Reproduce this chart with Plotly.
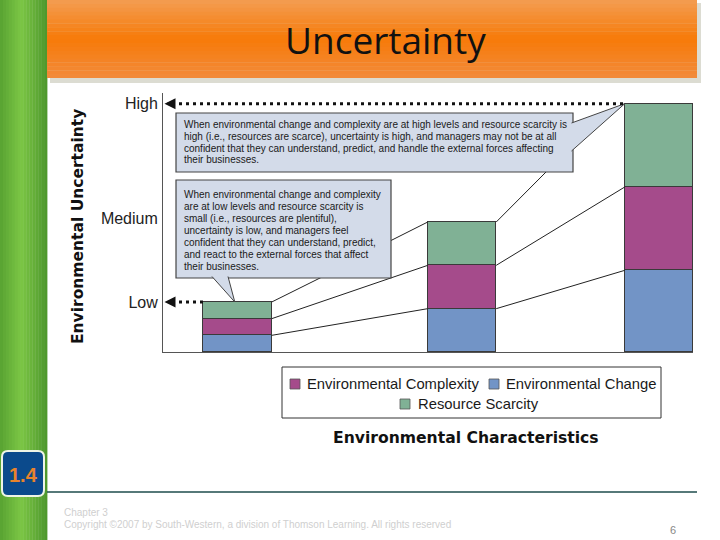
import plotly.graph_objects as go

# ---------------- data ----------------
categories = ["Low uncertainty", "Medium uncertainty", "High uncertainty"]
env_change = [1.0, 2.6, 4.9]          # Environmental Change (bottom, blue)
env_complexity = [1.0, 2.6, 5.0]      # Environmental Complexity (middle, purple)
resource_scarcity = [1.0, 2.6, 5.0]   # Resource Scarcity (top, green)
tick_vals = [3.0, 8.0, 14.9]
tick_text = ["Low", "Medium", "High"]

# ---------------- layout constants ----------------
W, H = 720, 540
L, R, T, B = 163, 27, 93, 188
PW, PH = W - L - R, H - T - B
YMAX = 15.54
bar_pos = [0.0, 1.0, 1.8775]
bar_w = 0.305
XMIN, XMAX = -0.3318, 2.029

C_BLUE = "#7294c6"
C_PURPLE = "#a54b8b"
C_GREEN = "#80b195"
C_BOX = "#d3dbe9"
C_EDGE = "#3a3a3a"
FONT = "Liberation Sans, Arial, sans-serif"
BOLDFONT = "DejaVu Sans, Liberation Sans, sans-serif"


def PX(px):
    return (px - L) / PW


def PY(py):
    return (H - B - py) / PH


def dx(px):
    return XMIN + (px - L) / PW * (XMAX - XMIN)


def dy(py):
    return (H - B - py) / PH * YMAX


def hexmix(c1, c2, t):
    a = [int(c1[i:i + 2], 16) for i in (1, 3, 5)]
    b = [int(c2[i:i + 2], 16) for i in (1, 3, 5)]
    return "#" + "".join(f"{round(a[k] + (b[k] - a[k]) * t):02x}" for k in range(3))


cum1 = [a for a in env_change]
cum2 = [a + b for a, b in zip(env_change, env_complexity)]
total = [a + b + c for a, b, c in zip(env_change, env_complexity, resource_scarcity)]

fig = go.Figure()
for name, vals, col in [("Environmental Change", env_change, C_BLUE),
                        ("Environmental Complexity", env_complexity, C_PURPLE),
                        ("Resource Scarcity", resource_scarcity, C_GREEN)]:
    fig.add_trace(go.Bar(x=bar_pos, y=vals, width=bar_w, name=name,
                         marker=dict(color=col, line=dict(color=C_EDGE, width=1)),
                         customdata=categories, showlegend=False,
                         hovertemplate="%{customdata}<br>" + name + ": %{y}<extra></extra>"))

# connector lines between segment tops
for i in range(2):
    for cum in (cum1, cum2):
        fig.add_trace(go.Scatter(x=[bar_pos[i] + bar_w / 2, bar_pos[i + 1] - bar_w / 2],
                                 y=[cum[i], cum[i + 1]], mode="lines",
                                 line=dict(color="#222", width=1), showlegend=False,
                                 hoverinfo="skip"))

# callout pointer lines
pointers = [((322, 277), (bar_pos[0] + bar_w / 2, total[0])),
            ((390, 241), (bar_pos[1] - bar_w / 2, total[1])),
            ((547, 171), (bar_pos[1] + bar_w / 2, total[1]))]
for (bx, by), (tx, ty) in pointers:
    fig.add_trace(go.Scatter(x=[dx(bx), tx], y=[dy(by), ty], mode="lines",
                             line=dict(color="#222", width=1), showlegend=False,
                             hoverinfo="skip"))

shapes = []
# left green band
n = 16
for k in range(n):
    x0 = 47 * k / n
    x1 = 47 * (k + 1) / n + 0.4
    t = (k + 0.5) / n
    if t < 0.45:
        col = hexmix("#58a332", "#7cc645", t / 0.45)
    else:
        col = hexmix("#7cc645", "#4c962c", (t - 0.45) / 0.55)
    shapes.append(dict(type="rect", xref="paper", yref="paper", x0=PX(x0), x1=PX(x1),
                       y0=PY(540), y1=PY(0), fillcolor=col, line=dict(width=0), layer="below"))
# banner shadow
shapes.append(dict(type="rect", xref="paper", yref="paper", x0=PX(50), x1=PX(701),
                   y0=PY(83), y1=PY(3), fillcolor="#dcdcd2", line=dict(width=0), layer="below"))
# banner gradient
m = 20
for k in range(m):
    y0 = 78 * k / m
    y1 = 78 * (k + 1) / m + 0.4
    t = (k + 0.5) / m
    if t < 0.5:
        col = hexmix("#f39d52", "#f77a08", t / 0.5)
    else:
        col = hexmix("#f77a08", "#f28b3c", (t - 0.5) / 0.5)
    shapes.append(dict(type="rect", xref="paper", yref="paper", x0=PX(47), x1=PX(697),
                       y0=PY(min(y1, 78)), y1=PY(y0), fillcolor=col, line=dict(width=0),
                       layer="below"))
# footer line
shapes.append(dict(type="line", xref="paper", yref="paper", x0=PX(47), x1=PX(697),
                   y0=PY(492), y1=PY(492), line=dict(color="#1e4d4d", width=1.5)))

# badge (rounded rect)
bx0, bx1, by0, by1, r = 2, 44, 451, 496, 6
pts = (f"M {PX(bx0 + r)},{PY(by0)} L {PX(bx1 - r)},{PY(by0)} "
       f"Q {PX(bx1)},{PY(by0)} {PX(bx1)},{PY(by0 + r)} L {PX(bx1)},{PY(by1 - r)} "
       f"Q {PX(bx1)},{PY(by1)} {PX(bx1 - r)},{PY(by1)} L {PX(bx0 + r)},{PY(by1)} "
       f"Q {PX(bx0)},{PY(by1)} {PX(bx0)},{PY(by1 - r)} L {PX(bx0)},{PY(by0 + r)} "
       f"Q {PX(bx0)},{PY(by0)} {PX(bx0 + r)},{PY(by0)} Z")
shapes.append(dict(type="path", xref="paper", yref="paper", path=pts,
                   fillcolor="#0b4a8c", line=dict(color="#eef4e6", width=2)))

# callout boxes
shapes.append(dict(type="rect", xref="paper", yref="paper", x0=PX(176), x1=PX(573),
                   y0=PY(172), y1=PY(113), fillcolor=C_BOX, line=dict(color="#444", width=1.2)))
shapes.append(dict(type="rect", xref="paper", yref="paper", x0=PX(176), x1=PX(391),
                   y0=PY(278), y1=PY(180), fillcolor=C_BOX, line=dict(color="#444", width=1.2)))
# tails (tips at bar tops)
tipx, tipy = bar_pos[2] - bar_w / 2, total[2]
shapes.append(dict(type="path", xref="x", yref="y",
                   path=f"M {dx(571.5)},{dy(123)} L {tipx},{tipy} L {dx(571.5)},{dy(151)}",
                   fillcolor=C_BOX, line=dict(color="#444", width=1)))
tipx, tipy = bar_pos[0] - 0.012, total[0]
shapes.append(dict(type="path", xref="x", yref="y",
                   path=f"M {dx(212)},{dy(276.5)} L {tipx},{tipy} L {dx(228)},{dy(276.5)}",
                   fillcolor=C_BOX, line=dict(color="#444", width=1)))

# dotted level lines
for lvl, tgt in [(total[2], bar_pos[2] - bar_w / 2), (total[0], bar_pos[0] - bar_w / 2)]:
    shapes.append(dict(type="line", xref="x", yref="y", x0=dx(172), x1=tgt, y0=lvl, y1=lvl,
                       line=dict(color="#111", width=3, dash="3px,4px")))

# legend box
shapes.append(dict(type="rect", xref="paper", yref="paper", x0=PX(282), x1=PX(661),
                   y0=PY(418), y1=PY(367), fillcolor="white", line=dict(color="#333", width=1)))
for (sx, sy, col) in [(290, 384, C_PURPLE), (489, 384, C_BLUE), (400, 404, C_GREEN)]:
    shapes.append(dict(type="rect", xref="paper", yref="paper", x0=PX(sx), x1=PX(sx + 10),
                       y0=PY(sy + 5), y1=PY(sy - 5), fillcolor=col,
                       line=dict(color="#555", width=0.8)))

ann = []


def text(px, py, s, size, color="#111", xanchor="left", yanchor="middle", bold=False,
         family=FONT, angle=0):
    ann.append(dict(xref="paper", yref="paper", x=PX(px), y=PY(py), text=(f"<b>{s}</b>" if bold else s),
                    showarrow=False, xanchor=xanchor, yanchor=yanchor, textangle=angle,
                    font=dict(size=size, color=color, family=family)))


text(385, 40, "Uncertainty", 37, "#111", xanchor="center",
     family="Open Sans, Liberation Sans, sans-serif")

upper = ["When environmental change and complexity are at high levels and resource scarcity is",
         "high (i.e., resources are scarce), uncertainty is high, and managers may not be at all",
         "confident that they can understand, predict, and handle the external forces affecting",
         "their businesses."]
for i, s in enumerate(upper):
    text(182, 124.5 + 11.8 * i, s, 10, "#1a1a1a")
lower = ["When environmental change and complexity",
         "are at low levels and resource scarcity is",
         "small (i.e., resources are plentiful),",
         "uncertainty is low, and managers feel",
         "confident that they can understand, predict,",
         "and react to the external forces that affect",
         "their businesses."]
for i, s in enumerate(lower):
    text(182, 194 + 12 * i, s, 10, "#1a1a1a")

text(78, 227, "Environmental Uncertainty", 15.5, "#111", xanchor="center", bold=True,
     family=BOLDFONT, angle=-90)
text(466, 438, "Environmental Characteristics", 15.6, "#111", xanchor="center", bold=True,
     family=BOLDFONT)

text(305, 384, "Environmental Complexity", 14.8, "#1a1a1a")
text(504, 384, "Environmental Change", 14.8, "#1a1a1a")
text(416, 404, "Resource Scarcity", 14.8, "#1a1a1a")

text(23, 475, "1.4", 20, "#e8832c", xanchor="center", bold=True)
text(62, 512, "Chapter 3", 10, "#cfcfcf")
text(62, 524, "Copyright ©2007 by South-Western, a division of Thomson Learning. All rights reserved",
     10, "#cfcfcf")
text(673, 530, "6", 11, "#888", xanchor="center")

# arrowheads on level lines
for lvl in (total[2], total[0]):
    ann.append(dict(xref="x", yref="y", x=dx(164.5), y=lvl, ax=12, ay=0, text="",
                    showarrow=True, arrowhead=2, arrowsize=1, arrowwidth=2.2,
                    arrowcolor="#111"))

fig.update_layout(
    width=W, height=H, margin=dict(l=L, r=R, t=T, b=B, pad=0),
    paper_bgcolor="white", plot_bgcolor="white", barmode="stack", bargap=0,
    showlegend=False, shapes=shapes, annotations=ann,
    xaxis=dict(range=[XMIN, XMAX], showticklabels=False, showgrid=False, zeroline=False,
               showline=True, linecolor="#555", linewidth=1, ticks="", fixedrange=True),
    yaxis=dict(range=[0, YMAX], tickvals=tick_vals, ticktext=tick_text, showgrid=False,
               zeroline=False, showline=True, linecolor="#555", linewidth=1, ticks="",
               ticklabelstandoff=1, tickfont=dict(size=16, color="#222", family=FONT),
               fixedrange=True),
)

fig.write_html("out.html", config={"displayModeBar": False},
               post_script="document.body.style.margin='0';")
